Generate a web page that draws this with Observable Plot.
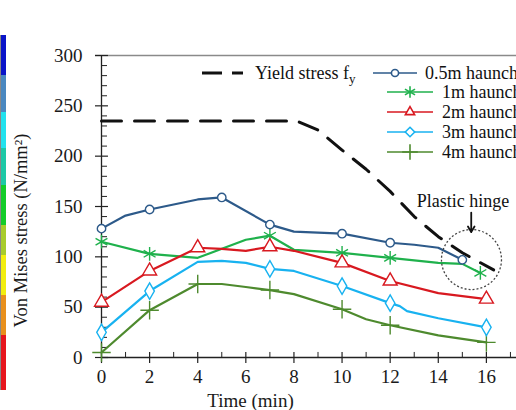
<!DOCTYPE html>
<html>
<head>
<meta charset="utf-8">
<script src="https://cdn.jsdelivr.net/npm/d3@7"></script>
<script src="https://cdn.jsdelivr.net/npm/@observablehq/plot@0.6"></script>
<style>
  html, body { margin: 0; padding: 0; background: #fff; }
  #wrap { position: relative; width: 516px; height: 410px; overflow: hidden; }
  #bar { position: absolute; left: 0; top: 35px; width: 5px; height: 355px;
    background: linear-gradient(to bottom,
      #0a14c8 0px, #0a14c8 40px,
      #4a88c0 40px, #4a88c0 77px,
      #22e2ee 77px, #22e2ee 113px,
      #1ec8a6 113px, #1ec8a6 150px,
      #14cc2a 150px, #14cc2a 190px,
      #a8cc2c 190px, #a8cc2c 220px,
      #f2ee10 220px, #f2ee10 260px,
      #e8901e 260px, #e8901e 300px,
      #e6161e 300px, #e6161e 355px);
    border-left: 1px solid #888; }
  #chart { position: absolute; left: 0; top: 0; width: 540px; }
  #chart svg { max-width: none !important; width: 540px; height: 410px; }
</style>
</head>
<body>
<div id="wrap"><div id="bar"></div><div id="chart"></div></div>
<script>
// ---- data ----
const seriesNames = ["0.5m haunch", "1m haunch", "2m haunch", "3m haunch", "4m haunch"];
const seriesColors = ["#2d5a8a", "#1fb14c", "#d81920", "#18b2f0", "#4e8a2e"];
const seriesSymbols = ["circle", "asterisk", "triangle", "diamond", "plus"];

const times05 = [0, 1, 2, 4, 5, 7, 8, 10, 12, 13, 14, 15];
const vals05  = [128, 141, 147, 157, 159, 132, 125, 123, 114, 112, 109, 97];
const marks05 = [0, 2, 5, 7, 10, 12, 15];

const times1 = [0, 2, 4, 6, 7, 8, 10, 12, 14, 15, 15.75];
const vals1  = [115, 103, 99, 117, 121, 107, 104, 99, 94, 93, 84];
const marks1 = [0, 2, 7, 10, 12, 15.75];

const times2 = [0, 2, 4, 5, 6, 7, 8, 10, 12, 14, 16];
const vals2  = [55, 86, 109, 108, 106, 110, 106, 94, 76, 64, 58];
const marks2 = [0, 2, 4, 7, 10, 12, 16];

const times3 = [0, 2, 4, 5, 6, 7, 8, 10, 12, 12.4, 12.7, 14, 16];
const vals3  = [25, 66, 95, 96, 94, 88, 86, 71, 54, 51, 46, 39, 30];
const marks3 = [0, 2, 7, 10, 12, 16];

const times4 = [0, 2, 4, 5, 6, 7, 8, 10, 11, 12, 14, 16];
const vals4  = [5, 47, 73, 73, 70, 67, 63, 48, 38, 32, 22, 15];
const marks4 = [0, 2, 4, 7, 10, 12, 16];

const yieldTimes = [0, 8.1, 9, 10, 11, 12, 13, 14, 15, 16.3];
const yieldVals  = [235, 235, 226, 206, 187, 165, 140, 120, 104, 87];
const yieldLabel = "Yield stress f";

const xMajor = [0, 2, 4, 6, 8, 10, 12, 14, 16];
const xMinor = [1, 3, 5, 7, 9, 11, 13, 15, 17];
const yMajor = [0, 50, 100, 150, 200, 250, 300];
const yMinor = [10, 20, 30, 40, 60, 70, 80, 90, 110, 120, 130, 140, 160, 170, 180, 190, 210, 220, 230, 240, 260, 270, 280, 290];

const hingeT = [15.38], hingeV = [97.3];
const hingeLabel = "Plastic hinge";
const hingeLabelT = 15.03, hingeLabelV = 155;
const arrowT = 15.37, arrowFrom = 144, arrowTo = 124.5;

const xLabel = "Time (min)";
const yLabel = "Von Mises stress (N/mm²)";

// ---- build tables ----
const allTimes = [times05, times1, times2, times3, times4];
const allVals = [vals05, vals1, vals2, vals3, vals4];
const allMarks = [marks05, marks1, marks2, marks3, marks4];
const markerR = [4.2, 6.5, 5.2, 5, 6];

const rows = [], markerRows = [];
seriesNames.forEach((s, i) => {
  allTimes[i].forEach((t, j) => {
    const r = {series: s, t, v: allVals[i][j], r: markerR[i]};
    rows.push(r);
    if (allMarks[i].includes(t)) markerRows.push(r);
  });
});
const yieldRows = yieldTimes.map((t, i) => ({t, v: yieldVals[i]}));
const hingeRows = hingeT.map((t, i) => ({t, v: hingeV[i]}));

const FONT = "'Times New Roman', 'Liberation Serif', serif";

const chart = Plot.plot({
  width: 540, height: 410,
  marginLeft: 101, marginRight: 6, marginTop: 55, marginBottom: 53,
  x: {domain: [0, 18]},
  y: {domain: [0, 300]},
  color: {domain: seriesNames, range: seriesColors},
  symbol: {domain: seriesNames, range: seriesSymbols},
  r: {type: "identity"},
  style: {fontFamily: FONT, fontSize: "19px", color: "#1a1a1a", background: "transparent", overflow: "visible", maxWidth: "none"},
  marks: [
    Plot.ruleY([300], {x1: -0.25, x2: 18, stroke: "#8a8a8a", strokeWidth: 1.6}),
    Plot.ruleX([0], {y1: 0, y2: 300, stroke: "#222", strokeWidth: 1.3}),
    Plot.ruleY([0], {x1: 0, x2: 18, stroke: "#222", strokeWidth: 1.3}),
    Plot.ruleY(yMajor, {x1: -0.25, x2: 0.29, stroke: "#222", strokeWidth: 1.2}),
    Plot.ruleY(yMinor, {x1: 0, x2: 0.25, stroke: "#222", strokeWidth: 1}),
    Plot.ruleX(xMajor, {y1: -6, y2: 5, stroke: "#222", strokeWidth: 1.2}),
    Plot.ruleX(xMinor, {y1: 0, y2: 5, stroke: "#222", strokeWidth: 1}),
    Plot.axisY({ticks: yMajor, tickSize: 0, tickPadding: 19, fontSize: 19, label: null}),
    Plot.axisX({ticks: xMajor, tickSize: 0, tickPadding: 12, fontSize: 19, label: null}),
    Plot.text([xLabel], {frameAnchor: "bottom-left", dx: 149, dy: 43, fontSize: 19, textAnchor: "middle", lineAnchor: "middle"}),
    Plot.text([yLabel], {frameAnchor: "left", dx: -80.5, dy: 24, rotate: -90, fontSize: 18.5, textAnchor: "middle", lineAnchor: "middle"}),
    Plot.line(yieldRows, {x: "t", y: "v", stroke: "#111", strokeWidth: 3, strokeDasharray: "20,13"}),
    Plot.line(rows, {x: "t", y: "v", z: "series", stroke: "series", strokeWidth: 2.2}),
    Plot.dot(markerRows, {x: "t", y: "v", stroke: "series", symbol: "series", r: "r", fill: "white", strokeWidth: 1.4}),
    Plot.dot(hingeRows, {x: "t", y: "v", r: 30, stroke: "#444", strokeWidth: 1.3, strokeDasharray: "2,2", fill: "none"}),
    Plot.text([hingeLabel], {x: () => hingeLabelT, y: () => hingeLabelV, fontSize: 18, fill: "#111"}),
    Plot.arrow([0], {x1: () => arrowT, y1: () => arrowFrom, x2: () => arrowT, y2: () => arrowTo, stroke: "#111", strokeWidth: 1.8, headLength: 9})
  ]
});
document.getElementById("chart").appendChild(chart);

// ---- legend (drawn into the plot's svg) ----
const svg = d3.select(chart);
const lg = svg.append("g").attr("text-anchor", "start").style("font-family", FONT).style("font-size", "18px").attr("fill", "#111");
const symMap = {circle: d3.symbolCircle, asterisk: d3.symbolAsterisk, triangle: d3.symbolTriangle2, diamond: d3.symbolDiamond2, plus: d3.symbolPlus};
// row 1: yield stress
lg.append("line").attr("x1", 202).attr("x2", 243).attr("y1", 73).attr("y2", 73)
  .attr("stroke", "#111").attr("stroke-width", 3).attr("stroke-dasharray", "20,10");
const yt = lg.append("text").attr("x", 255).attr("y", 79).attr("text-anchor", "start");
yt.append("tspan").text(yieldLabel);
yt.append("tspan").attr("dy", 4).style("font-size", "13px").text("y");
const legendPos = [
  {x1: 373, x2: 417, mx: 395, tx: 425, y: 73},
  {x1: 387, x2: 433, mx: 410, tx: 442, y: 92},
  {x1: 387, x2: 433, mx: 410, tx: 442, y: 112},
  {x1: 387, x2: 433, mx: 410, tx: 442, y: 132},
  {x1: 387, x2: 433, mx: 410, tx: 442, y: 152}
];
seriesNames.forEach((s, i) => {
  const p = legendPos[i];
  lg.append("line").attr("x1", p.x1).attr("x2", p.x2).attr("y1", p.y).attr("y2", p.y)
    .attr("stroke", seriesColors[i]).attr("stroke-width", 1.6);
  const rr = markerR[i] * 0.85;
  lg.append("path").attr("transform", `translate(${p.mx},${p.y})`)
    .attr("d", d3.symbol(symMap[seriesSymbols[i]], Math.PI * rr * rr)())
    .attr("fill", "white").attr("stroke", seriesColors[i]).attr("stroke-width", 1.6);
  lg.append("text").attr("x", p.tx).attr("y", p.y + 6).attr("text-anchor", "start").text(s);
});
</script>
</body>
</html>
